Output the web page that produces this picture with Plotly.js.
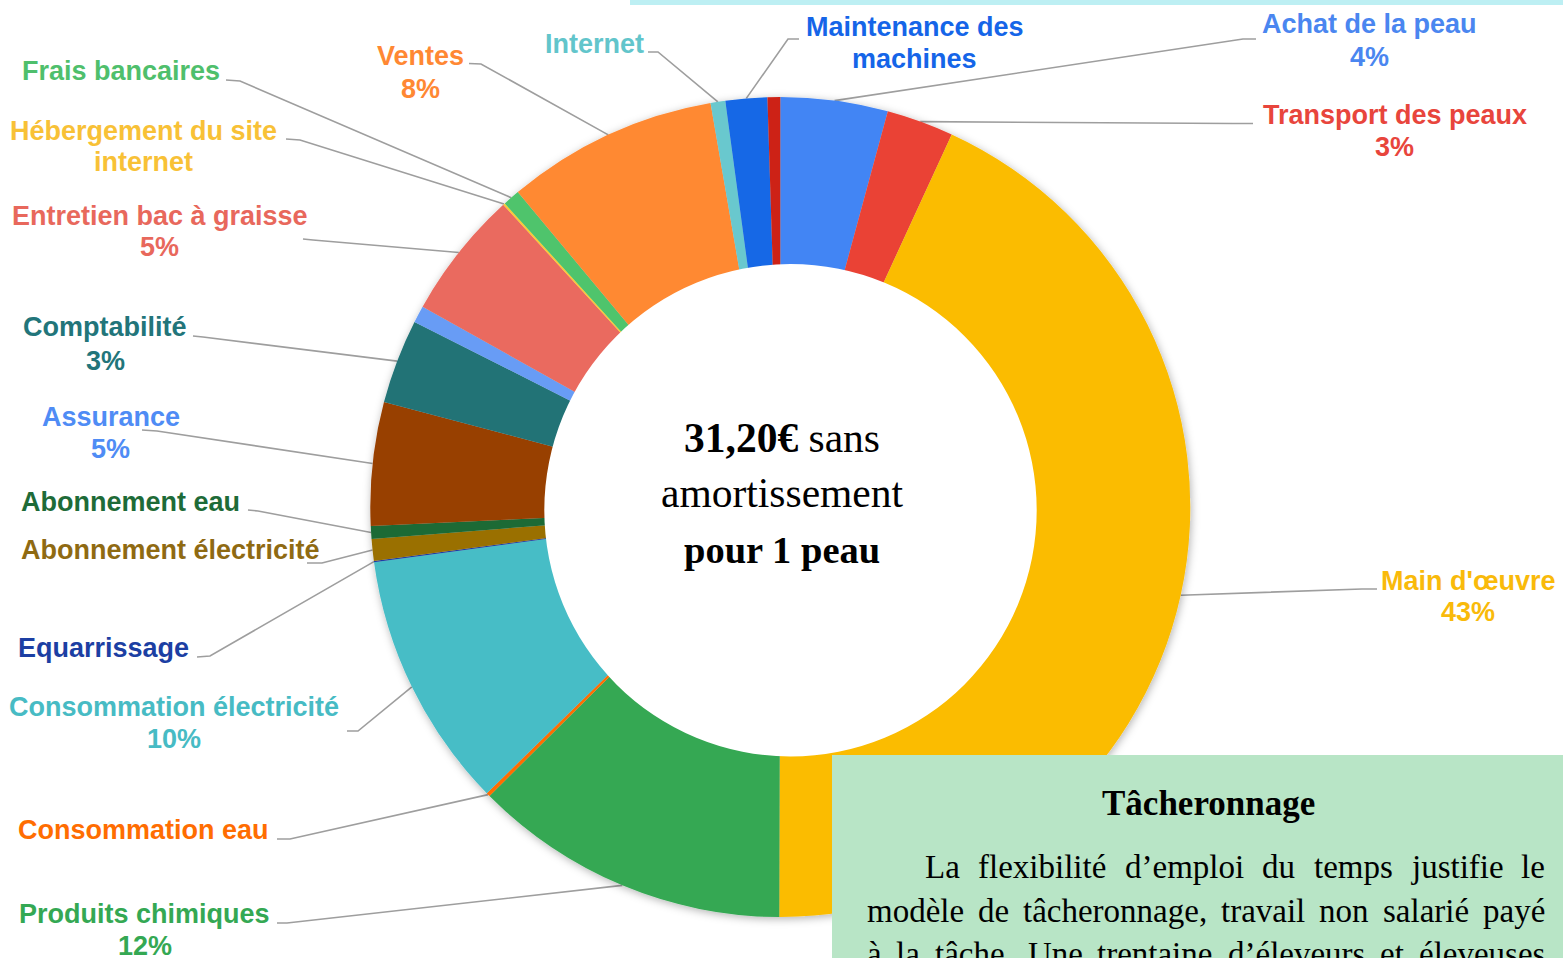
<!DOCTYPE html>
<html>
<head>
<meta charset="utf-8">
<script src="https://cdn.plot.ly/plotly-3.0.1.min.js"></script>
<style>
html,body{margin:0;padding:0;background:#ffffff;overflow:hidden;}
#chart{width:1563px;height:958px;}
</style>
</head>
<body>
<div id="chart"></div>
<script>
// ---------------- DATA ----------------
// Slices, clockwise from 12 o'clock
const categories = [
  "Achat de la peau", "Transport des peaux", "Main d'œuvre", "Produits chimiques",
  "Consommation eau", "Consommation électricité", "Equarrissage", "Abonnement électricité",
  "Abonnement eau", "Assurance", "Comptabilité", "Poste non étiqueté (bleu)",
  "Entretien bac à graisse", "Hébergement du site internet", "Frais bancaires", "Ventes",
  "Internet", "Maintenance des machines", "Poste non étiqueté (rouge)"
];
const values = [4.22, 2.64, 43.14, 12.5, 0.15, 10.14, 0.05, 0.86, 0.5, 4.86, 3.33, 0.67,
                5.06, 0.08, 0.67, 8.33, 0.58, 1.64, 0.5];
const sliceColors = ["#4285F4", "#EA4335", "#FBBC04", "#34A853", "#FF6D01", "#46BDC6", "#1C3FA5",
                     "#9A7000", "#1E6B35", "#983F00", "#217376", "#679CF5", "#EA6B5E", "#FCC934",
                     "#4FC46C", "#FF8933", "#69C8CE", "#1467E6", "#CD2418"];

// Outside labels: which slice, and the text lines shown
const labelSlice = [17, 16, 0, 1, 2, 15, 14, 13, 12, 10, 9, 8, 7, 6, 5, 4, 3];
const labelTexts = [
  ["Maintenance des", "machines"], ["Internet"], ["Achat de la peau", "4%"],
  ["Transport des peaux", "3%"], ["Main d'œuvre", "43%"], ["Ventes", "8%"],
  ["Frais bancaires"], ["Hébergement du site", "internet"], ["Entretien bac à graisse", "5%"],
  ["Comptabilité", "3%"], ["Assurance", "5%"], ["Abonnement eau"], ["Abonnement électricité"],
  ["Equarrissage"], ["Consommation électricité", "10%"], ["Consommation eau"],
  ["Produits chimiques", "12%"]
];
const centerLines = ["<b>31,20€</b> sans", "amortissement", "<b>pour 1 peau</b>"];
const boxTitle = "Tâcheronnage";
const boxLines = [
  "La flexibilité d’emploi du temps justifie le",
  "modèle de tâcheronnage, travail non salarié payé",
  "à la tâche. Une trentaine d’éleveurs et éleveuses"
];

// ---------------- STYLE / LAYOUT ----------------
const W = 1563, H = 958;
const cx = 780.3, cy = 507, R = 410;
const labelColors = ["#1565E8", "#62C5CB", "#4A86F0", "#E8453C", "#F9BA0A", "#FF8833",
                     "#4FBF6C", "#F8C136", "#E8685C", "#22757A", "#4F8CF5", "#1E6B38",
                     "#8F6A12", "#1C3FA3", "#47BBC4", "#FF6D01", "#34A853"];
const labelPos = [
  {x: 914.5, b: 36, gap: 32.3, end: [799, 39], elbow: [788, 39]},
  {x: 594, b: 53.3, gap: 32, end: [648, 52], elbow: [658, 52]},
  {x: 1369.7, b: 33.3, gap: 32.7, end: [1256, 39], elbow: [1243, 39]},
  {x: 1394.7, b: 124, gap: 32.7, end: [1253, 123.5], elbow: [1233, 123.5]},
  {x: 1468.3, b: 590, gap: 31.7, end: [1377, 589], elbow: [1362, 589]},
  {x: 420.5, b: 65, gap: 33.3, end: [469, 63.5], elbow: [481, 64]},
  {x: 121.3, b: 80.7, gap: 32, end: [226, 80], elbow: [240, 81]},
  {x: 143.7, b: 140, gap: 31.7, end: [286, 139], elbow: [300, 140]},
  {x: 159.7, b: 225, gap: 31.7, end: [303, 239], elbow: [313, 240]},
  {x: 105, b: 336.7, gap: 33.3, end: [193, 336], elbow: [203, 337]},
  {x: 110.8, b: 426, gap: 32.3, end: [142, 430], elbow: [157, 431]},
  {x: 130.5, b: 511.7, gap: 32, end: [248, 510], elbow: [258, 511]},
  {x: 170, b: 559.3, gap: 32, end: [307, 563], elbow: [322, 563]},
  {x: 103.5, b: 657.3, gap: 32, end: [197, 657], elbow: [210, 656]},
  {x: 174.2, b: 716.7, gap: 31.6, end: [347, 731], elbow: [358, 731]},
  {x: 143.8, b: 839.3, gap: 32, end: [277, 839], elbow: [290, 839]},
  {x: 144.5, b: 923.3, gap: 31.7, end: [277, 923], elbow: [287, 923]}
];
const LABEL_FS = 27, SANS = "Liberation Sans, Arial, sans-serif", SERIF = "Liberation Serif, Times New Roman, serif";

const px = x => x / W;
const py = y => 1 - y / H;

const total = values.reduce((a, b) => a + b, 0);
const cum = []; let acc = 0;
values.forEach(v => { cum.push(acc); acc += v; });
function midPoint(i) {
  const th = (cum[i] + values[i] / 2) / total * 2 * Math.PI;
  return [cx + R * Math.sin(th), cy - R * Math.cos(th)];
}

const annotations = [];
const shapes = [];

// leader lines + labels
labelSlice.forEach((si, k) => {
  const p = labelPos[k];
  const a = midPoint(si);
  shapes.push({
    type: "path", xref: "paper", yref: "paper", layer: "below",
    path: `M ${px(a[0])} ${py(a[1])} L ${px(p.elbow[0])} ${py(p.elbow[1])} L ${px(p.end[0])} ${py(p.end[1])}`,
    line: {color: "#9E9E9E", width: 1.6}
  });
  labelTexts[k].forEach((t, j) => {
    const base = p.b + j * p.gap;
    annotations.push({
      xref: "paper", yref: "paper", x: px(p.x), y: py(base - 0.3465 * LABEL_FS),
      xanchor: "center", yanchor: "middle", showarrow: false, borderpad: 0, borderwidth: 0,
      text: "<b>" + t + "</b>", font: {family: SANS, size: LABEL_FS, color: labelColors[k]}
    });
  });
});

// white centre disc, green text box, cyan strip
shapes.push({type: "circle", xref: "paper", yref: "paper", layer: "above",
  x0: px(790.5 - 246.2), x1: px(790.5 + 246.2), y0: py(510.3 + 246.2), y1: py(510.3 - 246.2),
  fillcolor: "#FFFFFF", line: {width: 0}});
shapes.push({type: "rect", xref: "paper", yref: "paper", layer: "above",
  x0: px(832), x1: 1.02, y0: -0.02, y1: py(755), fillcolor: "#B8E5C6", line: {width: 0}});
shapes.push({type: "rect", xref: "paper", yref: "paper", layer: "above",
  x0: px(630), x1: 1.02, y0: py(5), y1: 1.02, fillcolor: "#BDEFF3", line: {width: 0}});

// centre text
const CFS = [41.5, 41.5, 38.5];
[451.7, 506.7, 563.3].forEach((b, j) => {
  annotations.push({xref: "paper", yref: "paper", x: px(782), y: py(b - 0.3375 * CFS[j]),
    xanchor: "center", yanchor: "middle", showarrow: false, borderpad: 0, borderwidth: 0,
    text: centerLines[j], font: {family: SERIF, size: CFS[j], color: "#000000"}});
});

// box title
const TFS = 35;
annotations.push({xref: "paper", yref: "paper", x: px(1208), y: py(815 - 0.3375 * TFS),
  xanchor: "center", yanchor: "middle", showarrow: false, borderpad: 0, borderwidth: 0,
  text: "<b>" + boxTitle + "</b>", font: {family: SERIF, size: TFS, color: "#000000"}});

// justified body text
const BFS = 33;
const ctx = document.createElement("canvas").getContext("2d");
ctx.font = BFS + "px 'Liberation Serif'";
const bodyGeom = [{l: 925, r: 1545, b: 878.3}, {l: 867, r: 1545, b: 921.7}, {l: 867, r: 1545, b: 965}];
boxLines.forEach((line, j) => {
  const g = bodyGeom[j];
  const words = line.split(" ");
  const widths = words.map(w => ctx.measureText(w).width);
  const sum = widths.reduce((a, b) => a + b, 0);
  const sp = (g.r - g.l - sum) / (words.length - 1);
  let x = g.l;
  words.forEach((w, i) => {
    annotations.push({xref: "paper", yref: "paper", x: px(x), y: py(g.b - 0.3375 * BFS),
      xanchor: "left", yanchor: "middle", showarrow: false, borderpad: 0, borderwidth: 0,
      text: w, font: {family: SERIF, size: BFS, color: "#000000"}});
    x += widths[i] + sp;
  });
});

const trace = {
  type: "pie", values: values, labels: categories, sort: false, direction: "clockwise",
  rotation: 0, hole: 0.5, textinfo: "none", hoverinfo: "label+percent",
  marker: {colors: sliceColors, line: {width: 0}},
  domain: {x: [px(cx - R), px(cx + R)], y: [py(cy + R), py(cy - R)]},
  showlegend: false
};

const layout = {
  width: W, height: H, margin: {l: 0, r: 0, t: 0, b: 0},
  paper_bgcolor: "#FFFFFF", plot_bgcolor: "#FFFFFF", showlegend: false,
  shapes: shapes, annotations: annotations
};

Plotly.newPlot("chart", [trace], layout, {displayModeBar: false, staticPlot: true}).then(() => {
  const svg = document.querySelector("#chart .main-svg");
  const NS = "http://www.w3.org/2000/svg";
  let defs = svg.querySelector("defs");
  if (!defs) { defs = document.createElementNS(NS, "defs"); svg.insertBefore(defs, svg.firstChild); }
  const f = document.createElementNS(NS, "filter");
  f.setAttribute("id", "pieshadow");
  f.setAttribute("x", "-10%"); f.setAttribute("y", "-10%");
  f.setAttribute("width", "120%"); f.setAttribute("height", "120%");
  const ds = document.createElementNS(NS, "feDropShadow");
  ds.setAttribute("dx", "1"); ds.setAttribute("dy", "2");
  ds.setAttribute("stdDeviation", "4");
  ds.setAttribute("flood-color", "#000000"); ds.setAttribute("flood-opacity", "0.3");
  f.appendChild(ds); defs.appendChild(f);
  const pl = document.querySelector("#chart .pielayer");
  if (pl) pl.setAttribute("filter", "url(#pieshadow)");
});
</script>
</body>
</html>
